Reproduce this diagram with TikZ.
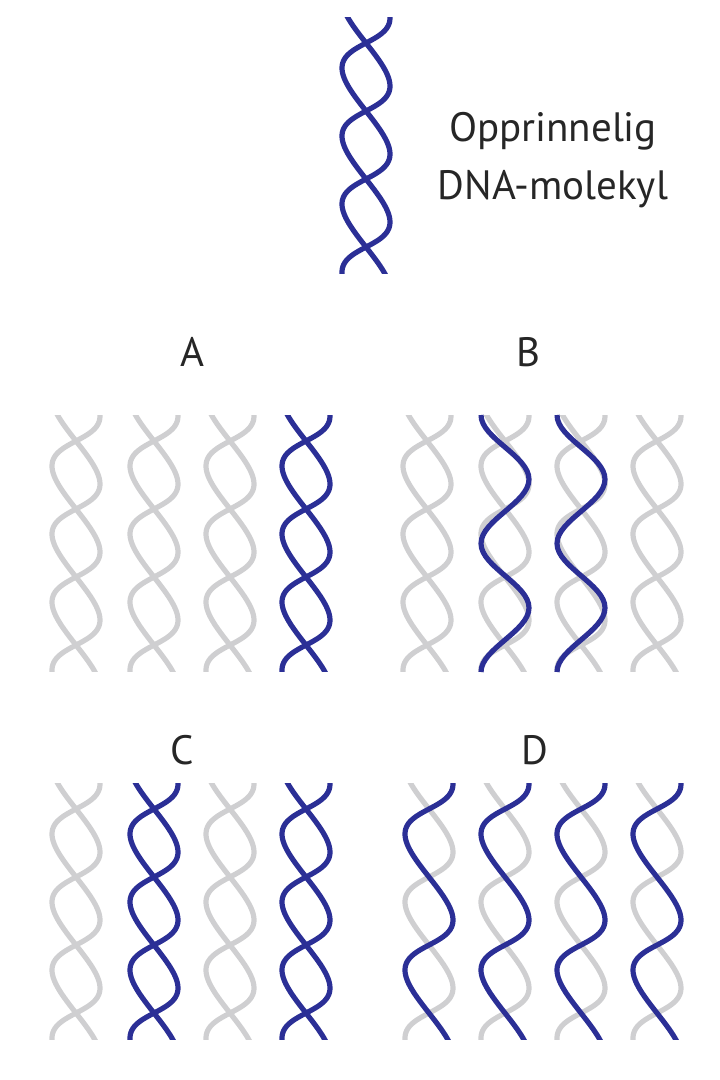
\documentclass[tikz,border=0pt]{standalone}
\usepackage{fontspec}
\setmainfont{PT Sans}
\definecolor{dnab}{HTML}{2B2F96}
\definecolor{dnag}{HTML}{CFCFD1}
\begin{document}
\begin{tikzpicture}[x=1pt,y=1pt,
  strand/.style={line width=5.2pt,line cap=butt},
  lbl/.style={font=\fontsize{41}{58}\selectfont,text=black!85}]
\useasboundingbox (0,0) rectangle (720,-1080);
\newcommand{\strandS}[4]{\draw[strand,#4] plot[domain=-120:760,samples=140,smooth,variable=\s] ({#1+#3*24*sin(\s)},{-(#2+26+0.3779*\s+#3*9*sin(\s))});}
\newcommand{\helixX}[4]{\begin{scope}\clip (#1-40,-#2) rectangle (#1+40,-#2-256);
  \strandS{#1}{#2}{1}{#3}\strandS{#1}{#2}{-1}{#4}\end{scope}}
\newcommand{\waveB}[2]{\draw[strand,dnab] (#1-24,-#2)
  .. controls (#1-24,-#2-23.4) and (#1+24,-#2-40.9) .. (#1+24,-#2-64.3)
  .. controls (#1+24,-#2-87.7) and (#1-24,-#2-105.1) .. (#1-24,-#2-128.5)
  .. controls (#1-24,-#2-151.9) and (#1+24,-#2-169.4) .. (#1+24,-#2-192.8)
  .. controls (#1+24,-#2-216.2) and (#1-24,-#2-233.6) .. (#1-24,-#2-257);}
% top
\helixX{366}{17}{dnab}{dnab}
\node[lbl,align=center] (t) at (553,-160) {Opprinnelig\\DNA-molekyl};
\node[lbl] (la) at (192,-352) {A};
\node[lbl] (lb) at (528,-352) {B};
\node[lbl] (lc) at (182,-750) {C};
\node[lbl] (ld) at (535,-750) {D};
% A
\helixX{76}{415}{dnag}{dnag}
\helixX{154}{415}{dnag}{dnag}
\helixX{230}{415}{dnag}{dnag}
\helixX{306}{415}{dnab}{dnab}
% B
\helixX{427}{415}{dnag}{dnag}
\helixX{505}{415}{dnag}{dnag}
\helixX{581}{415}{dnag}{dnag}
\helixX{657}{415}{dnag}{dnag}
\waveB{505}{415}
\waveB{581}{415}
% C
\helixX{76}{783}{dnag}{dnag}
\helixX{154}{783}{dnab}{dnab}
\helixX{230}{783}{dnag}{dnag}
\helixX{306}{783}{dnab}{dnab}
% D
\helixX{429}{783}{dnag}{dnab}
\helixX{505}{783}{dnag}{dnab}
\helixX{581}{783}{dnag}{dnab}
\helixX{657}{783}{dnag}{dnab}
\end{tikzpicture}
\end{document}
